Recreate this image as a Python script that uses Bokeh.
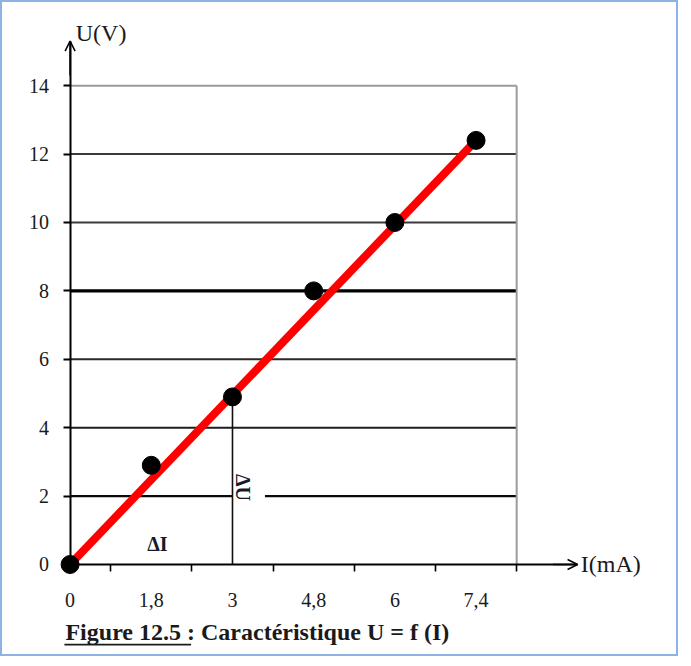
import math
from bokeh.plotting import figure
from bokeh.models import FixedTicker, Arrow, OpenHead, Label, Range1d
from bokeh.embed import file_html
from bokeh.resources import INLINE

# ---- data ----
I_mA = [0, 1.8, 3, 4.8, 6, 7.4]
U_V = [0, 2.9, 4.9, 8.0, 10.0, 12.4]
x_labels = ["0", "1,8", "3", "4,8", "6", "7,4"]
y_ticks = [0, 2, 4, 6, 8, 10, 12, 14]
grid_values = [2, 4, 6, 8, 10, 12, 14]
title_main = "Figure 12.5 "
title_rest = ": Caractéristique U = f (I)"
x_title = "I(mA)"
y_title = "U(V)"

# ---- styles / layout ----
grid_colors = ["#0a0a0a", "#1e1e1e", "#2a2a2a", "#000000", "#3a3a3a", "#3a3a3a", "#9a9a9a"]
grid_widths = [2.2, 2, 2, 3.2, 2, 2, 2]
SERIF = "Liberation Serif"

xpos = list(range(len(I_mA)))          # category-like positions on the I axis
x_edge = len(xpos) - 0.5               # right border of the grid
x_axis_end = 6.25
y_axis_end = 15.3
delta_idx = 2                          # point used for the ΔU construction
gap_end = 2.4                          # gap in the U=2 line next to ΔU

W, H = 678, 656
p = figure(width=W, height=H, output_backend="svg", toolbar_location=None,
           x_range=Range1d(-0.857, 7.493), y_range=Range1d(-2.69, 16.49),
           min_border=0, background_fill_color="white", border_fill_color="white")
p.xgrid.visible = False
p.ygrid.visible = False
p.outline_line_color = "#8db3e2"
p.outline_line_width = 3

# horizontal grid lines (from tick values)
x0s, x1s, ys, cols, wids = [], [], [], [], []
for v, c, w in zip(grid_values, grid_colors, grid_widths):
    if v == 2:
        x0s += [0, gap_end]; x1s += [delta_idx, x_edge]; ys += [v, v]; cols += [c, c]; wids += [w, w]
    else:
        x0s.append(0); x1s.append(x_edge); ys.append(v); cols.append(c); wids.append(w)
p.segment(x0=x0s, y0=ys, x1=x1s, y1=ys, line_color=cols, line_width=wids)

# right border of grid
p.segment(x0=[x_edge], y0=[0], x1=[x_edge], y1=[grid_values[-1]], line_color="#9a9a9a", line_width=2)

# ΔU vertical construction line
p.segment(x0=[xpos[delta_idx]], y0=[0], x1=[xpos[delta_idx]], y1=[U_V[delta_idx]],
          line_color="#111111", line_width=1.6)

# fitted red line
p.line([xpos[0], xpos[-1]], [U_V[0], U_V[-1]], line_color="#ff0000", line_width=8)

# measured points
p.scatter(xpos, U_V, size=18, color="black")

# axes
xa = p.xaxis[0]
xa.fixed_location = 0
xa.bounds = (0, x_axis_end)
xa.ticker = FixedTicker(ticks=xpos, minor_ticks=[x + 0.5 for x in xpos])
xa.major_label_overrides = {i: lab for i, lab in zip(xpos, x_labels)}
xa.major_tick_out = 0
xa.major_tick_in = 0
xa.minor_tick_out = 7
xa.minor_tick_in = 0
xa.minor_tick_line_color = "black"
xa.minor_tick_line_width = 1.6
xa.axis_line_color = "black"
xa.axis_line_width = 1.8
xa.major_label_standoff = 22
xa.major_label_text_font = SERIF
xa.major_label_text_font_size = "20px"
xa.major_label_text_color = "#1a1a1a"

ya = p.yaxis[0]
ya.fixed_location = 0
ya.bounds = (0, y_axis_end)
ya.ticker = FixedTicker(ticks=y_ticks, minor_ticks=[])
ya.major_tick_out = 7
ya.major_tick_in = 0
ya.major_tick_line_color = "black"
ya.major_tick_line_width = 2
ya.axis_line_color = "black"
ya.axis_line_width = 2
ya.major_label_standoff = 14
ya.major_label_text_font = SERIF
ya.major_label_text_font_size = "20px"
ya.major_label_text_color = "#1a1a1a"

# arrow heads
p.add_layout(Arrow(end=OpenHead(size=10, line_width=1.5, line_color="black"),
                   x_start=x_axis_end - 0.3, y_start=0, x_end=x_axis_end, y_end=0,
                   line_width=1.5, line_color="black"))
p.add_layout(Arrow(end=OpenHead(size=10, line_width=1.5, line_color="black"),
                   x_start=0, y_start=y_axis_end - 1, x_end=0, y_end=y_axis_end,
                   line_width=1.5, line_color="black"))

# axis titles
p.add_layout(Label(x=x_axis_end + 0.04, y=0, text=x_title, text_font=SERIF,
                   text_font_size="24px", text_baseline="middle", text_align="left",
                   text_color="#1a1a1a"))
p.add_layout(Label(x=0.07, y=15.55, text=y_title, text_font=SERIF,
                   text_font_size="24px", text_baseline="middle", text_align="left",
                   text_color="#1a1a1a"))

# Δ annotations
p.add_layout(Label(x=0.95, y=0.6, text="ΔI", text_font=SERIF, text_font_style="bold",
                   text_font_size="20px", text_baseline="middle", text_align="left",
                   text_color="#141a2e"))
p.add_layout(Label(x=2.13, y=2.25, text="ΔU", text_font=SERIF, text_font_style="bold",
                   text_font_size="20px", text_baseline="middle", text_align="center",
                   angle=-math.pi / 2, text_color="#141a2e"))

# caption with underlined part
p.add_layout(Label(x=-0.057, y=-1.96, text=title_main + title_rest, text_font=SERIF,
                   text_font_style="bold", text_font_size="24px", text_baseline="middle",
                   text_align="left", text_color="#1a1a1a"))
p.segment(x0=[-0.07], y0=[-2.34], x1=[1.49], y1=[-2.34], line_color="#1a1a1a", line_width=1.8)

open("out.html", "w").write(file_html(p, INLINE))
